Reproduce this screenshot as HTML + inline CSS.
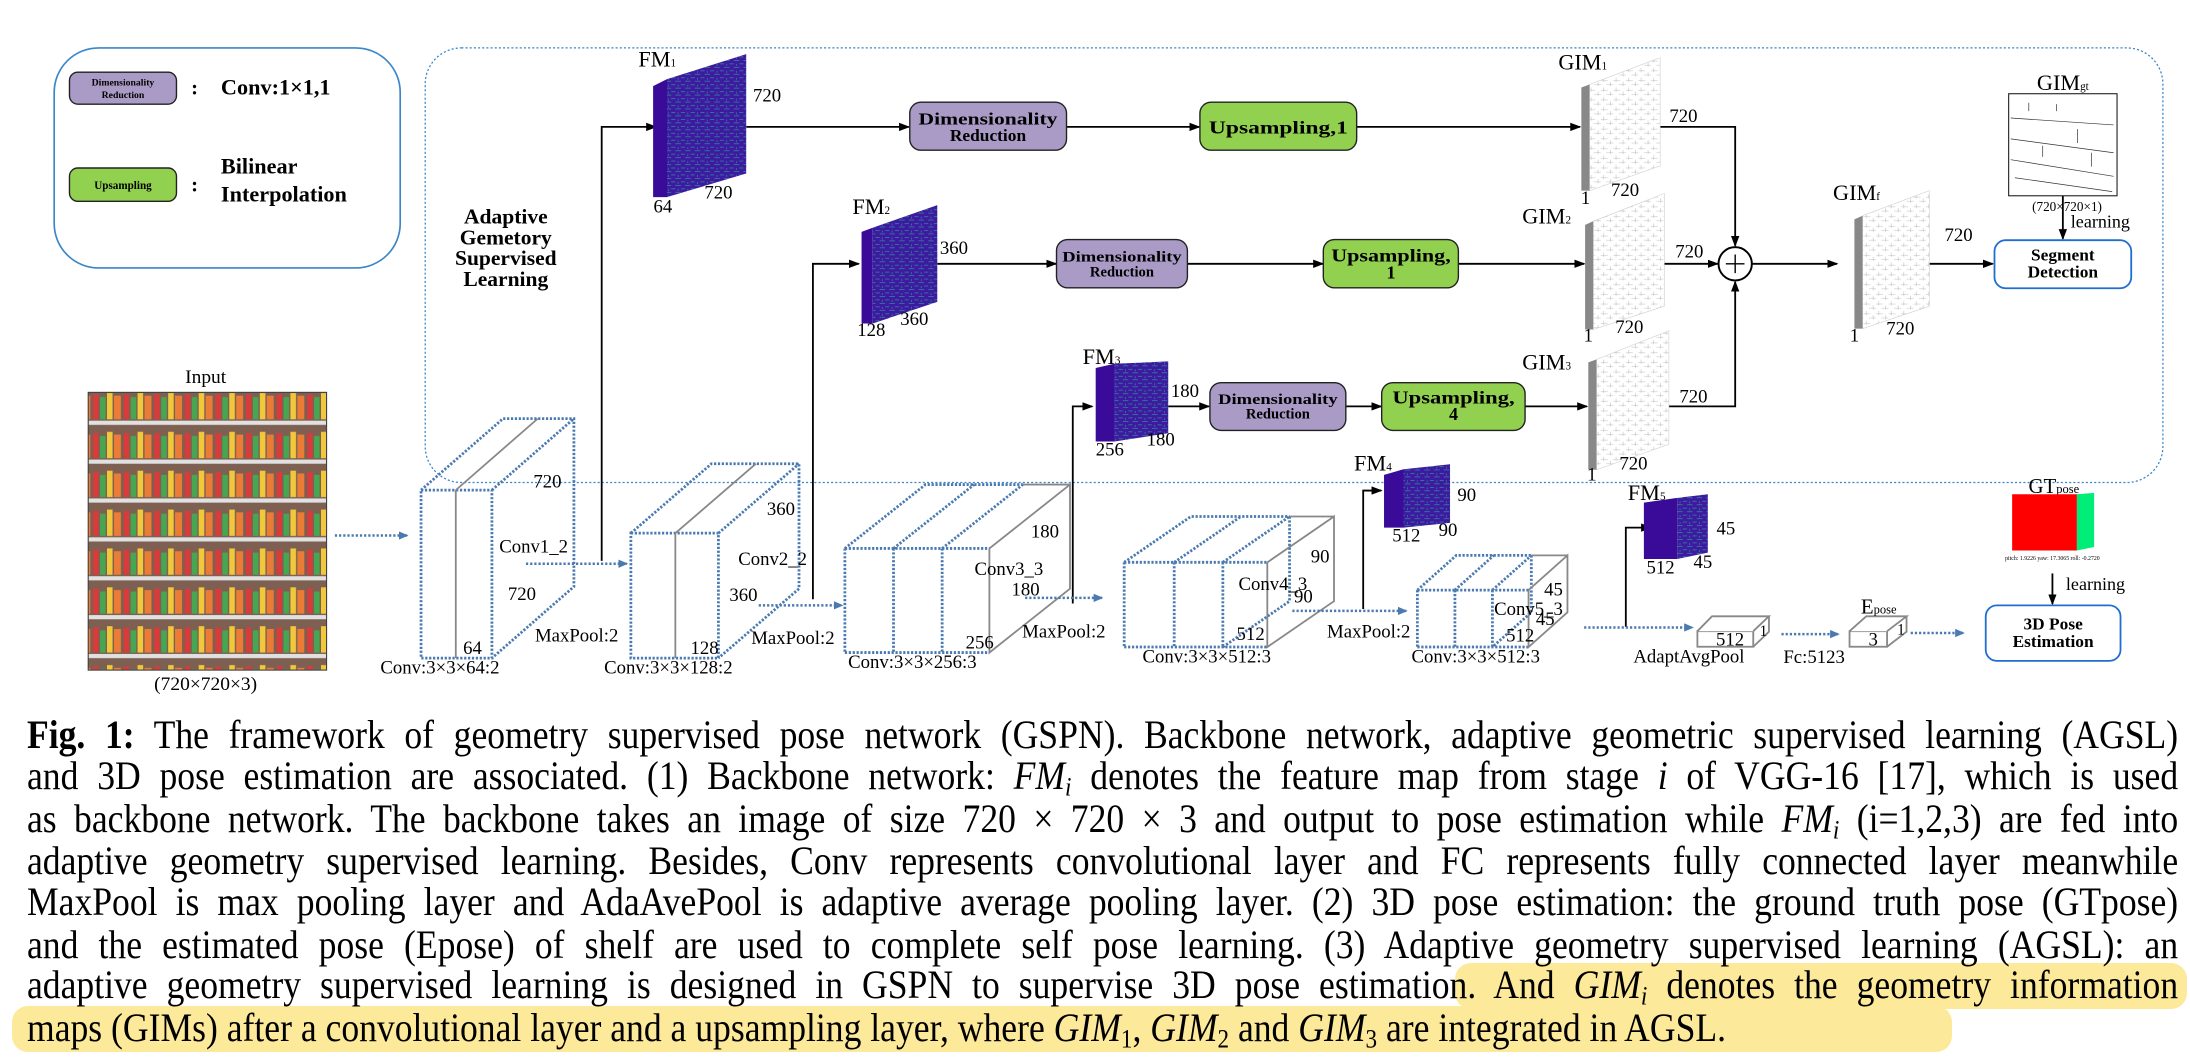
<!DOCTYPE html>
<html><head><meta charset="utf-8">
<style>
html,body{margin:0;padding:0;background:#fff;}
body{width:2190px;height:1058px;position:relative;overflow:hidden;font-family:"Liberation Serif",serif;}
svg{position:absolute;left:0;top:0;}
.cap{position:absolute;left:27px;width:2417px;font-size:40px;line-height:42px;height:42px;text-align:justify;text-align-last:justify;white-space:nowrap;color:#000;transform:scaleX(0.89);transform-origin:0 0;}
.hl{position:absolute;background:#fde99a;border-radius:16px;}
i{font-style:italic;}
sub{font-size:0.65em;vertical-align:-0.25em;line-height:0;}
</style></head><body>
<div class="hl" style="left:1455px;top:963px;width:732px;height:46px;"></div>
<div class="hl" style="left:12px;top:1006px;width:1940px;height:46px;"></div>
<svg width="2190" height="1058" viewBox="0 0 1576 762" preserveAspectRatio="none" font-family="Liberation Serif, serif">
<defs>
<marker id="ak" markerWidth="8" markerHeight="6" refX="7" refY="3" orient="auto" markerUnits="userSpaceOnUse"><path d="M0,0L8,3L0,6z" fill="#000"/></marker>
<marker id="ab" markerWidth="7" markerHeight="6" refX="6" refY="3" orient="auto" markerUnits="userSpaceOnUse"><path d="M0,0L7,3L0,6z" fill="#4a7ab0"/></marker>
<pattern id="fm" width="7" height="5" patternUnits="userSpaceOnUse"><rect width="7" height="5" fill="#3d1aa0"/><path d="M0,1h3M3,3.5h4M5,1v1.5" stroke="#2f8c9c" stroke-width="0.5"/></pattern>
<pattern id="gim" width="9" height="7" patternUnits="userSpaceOnUse"><rect width="9" height="7" fill="#fff"/><path d="M0,2h5M4,5h5M2,0v3M7,3v3" stroke="#bbb" stroke-width="0.4"/></pattern>
<pattern id="shelf" width="22" height="28" patternUnits="userSpaceOnUse"><rect width="22" height="28" fill="#6b4a3a"/><rect x="1" y="4" width="4" height="18" fill="#d42020"/><rect x="6" y="6" width="4" height="16" fill="#2e9a3a"/><rect x="11" y="3" width="4" height="19" fill="#f0c020"/><rect x="16" y="5" width="5" height="17" fill="#e86a1a"/><rect x="0" y="23" width="22" height="3" fill="#ddd"/></pattern>
</defs>

<!-- legend -->
<rect x="39" y="34.5" width="249" height="158.5" rx="32" fill="none" stroke="#3a86c8" stroke-width="1.2"/>
<rect x="50" y="52" width="77" height="23" rx="6" fill="#a99bc6" stroke="#222" stroke-width="1"/>
<text x="88.5" y="61.5" font-size="7" font-weight="bold" text-anchor="middle">Dimensionality</text>
<text x="88.5" y="70.5" font-size="7" font-weight="bold" text-anchor="middle">Reduction</text>
<rect x="50" y="121" width="77" height="24" rx="6" fill="#92d050" stroke="#222" stroke-width="1"/>
<text x="88.5" y="136" font-size="8" font-weight="bold" text-anchor="middle">Upsampling</text>
<text x="140" y="68" font-size="15" font-weight="bold" text-anchor="middle">:</text>
<text x="159" y="68" font-size="16" font-weight="bold">Conv:1×1,1</text>
<text x="140" y="138" font-size="15" font-weight="bold" text-anchor="middle">:</text>
<text x="159" y="125" font-size="16" font-weight="bold">Bilinear</text>
<text x="159" y="145" font-size="16" font-weight="bold">Interpolation</text>

<!-- AGSL region -->
<rect x="306" y="34.5" width="1250.5" height="313" rx="26" fill="none" stroke="#3a86c8" stroke-width="0.9" stroke-dasharray="1.5 1.5"/>
<g font-size="15.5" font-weight="bold" text-anchor="middle">
<text x="364" y="161">Adaptive</text><text x="364" y="176">Gemetory</text><text x="364" y="191">Supervised</text><text x="364" y="206">Learning</text></g>

<!-- input -->
<text x="148" y="276" font-size="14" text-anchor="middle">Input</text>
<rect x="63.5" y="282.6" width="171.5" height="200" fill="url(#shelf)" stroke="#333" stroke-width="0.8"/>
<rect x="63.5" y="282.6" width="171.5" height="200" fill="#fff" opacity="0.12"/>
<text x="148" y="497" font-size="14" text-anchor="middle">(720×720×3)</text>

<!-- black connectors -->
<g stroke="#000" stroke-width="1.3" fill="none" marker-end="url(#ak)">
<path d="M433,404V91.4H472"/>
<path d="M585,431.6V190H618"/>
<path d="M772,434.7V292.7H786"/>
<path d="M981,438.6V353.3H994"/>
<path d="M1170,451.4V380H1188"/>
<path d="M537,91.4H654"/>
<path d="M767.5,91.4H863"/>
<path d="M976.3,91.4H1137"/>
<path d="M674.5,190H760"/>
<path d="M854.5,190H952"/>
<path d="M1049.5,190H1140"/>
<path d="M1197.7,190H1236"/>
<path d="M840.7,292.7H870"/>
<path d="M968.5,292.7H994"/>
<path d="M1097.5,292.7H1142"/>
<path d="M1194.7,91.4H1248.7V177"/>
<path d="M1201,292.7H1248.7V203"/>
<path d="M1261,190H1322"/>
<path d="M1378,190H1434"/>
<path d="M1484.5,141V172"/>
<path d="M1477,413V435"/>
</g>
<circle cx="1248.7" cy="190" r="12" fill="#fff" stroke="#000" stroke-width="1.4"/>
<path d="M1242,190h13.4M1248.7,183.3v13.4" stroke="#000" stroke-width="1"/>

<!-- feature maps -->
<polygon points="470,62 480,57 480,142 470,142" fill="#3a0a98"/>
<polygon points="480,57 537,39 537,125 480,142" fill="url(#fm)"/>
<text x="473" y="48" font-size="16" text-anchor="middle">FM<tspan font-size="8">1</tspan></text>
<text x="552" y="73" font-size="13.5" text-anchor="middle">720</text>
<text x="517" y="143" font-size="13.5" text-anchor="middle">720</text>
<text x="477" y="153" font-size="13.5" text-anchor="middle">64</text>

<polygon points="620,167 628,164 628,233 620,233" fill="#3a0a98"/>
<polygon points="628,164 674.5,147.7 674.5,217.4 628,233" fill="url(#fm)"/>
<text x="627" y="154" font-size="16" text-anchor="middle">FM<tspan font-size="8">2</tspan></text>
<text x="686.5" y="183" font-size="13.5" text-anchor="middle">360</text>
<text x="658" y="234" font-size="13.5" text-anchor="middle">360</text>
<text x="627" y="242" font-size="13.5" text-anchor="middle">128</text>

<polygon points="788.5,265 802,262 802,318 788.5,318" fill="#3a0a98"/>
<polygon points="802,262 840.7,260.3 840.7,312 802,318" fill="url(#fm)"/>
<text x="792.7" y="262" font-size="16" text-anchor="middle">FM<tspan font-size="8">3</tspan></text>
<text x="852.7" y="286" font-size="13.5" text-anchor="middle">180</text>
<text x="835.3" y="321" font-size="13.5" text-anchor="middle">180</text>
<text x="798.7" y="328" font-size="13.5" text-anchor="middle">256</text>

<polygon points="996,342 1010,338 1010,380 996,380" fill="#3a0a98"/>
<polygon points="1010,338 1043.5,334.4 1043.5,376.6 1010,380" fill="url(#fm)"/>
<text x="988" y="339" font-size="16" text-anchor="middle">FM<tspan font-size="8">4</tspan></text>
<text x="1055.5" y="361" font-size="13.5" text-anchor="middle">90</text>
<text x="1042" y="386" font-size="13.5" text-anchor="middle">90</text>
<text x="1012" y="390" font-size="13.5" text-anchor="middle">512</text>

<polygon points="1183,362 1207,358.6 1207,402.6 1183,402.6" fill="#3a0a98"/>
<polygon points="1207,358.6 1229,356 1229,398 1207,402.6" fill="url(#fm)"/>
<text x="1185" y="360" font-size="16" text-anchor="middle">FM<tspan font-size="8">5</tspan></text>
<text x="1242" y="385" font-size="13.5" text-anchor="middle">45</text>
<text x="1225.5" y="409" font-size="13.5" text-anchor="middle">45</text>
<text x="1195" y="413" font-size="13.5" text-anchor="middle">512</text>

<!-- boxes -->
<g stroke="#222" stroke-width="1">
<rect x="654.7" y="73.6" width="112.8" height="34.6" rx="8" fill="#a99bc6"/>
<rect x="863.5" y="73.6" width="112.8" height="34.6" rx="8" fill="#92d050"/>
<rect x="760.3" y="172.5" width="94.2" height="34.8" rx="8" fill="#a99bc6"/>
<rect x="952.3" y="172.5" width="97.2" height="34.8" rx="8" fill="#92d050"/>
<rect x="870.7" y="275.6" width="97.8" height="34.4" rx="8" fill="#a99bc6"/>
<rect x="994.3" y="275.6" width="103.2" height="34.4" rx="8" fill="#92d050"/>
</g>
<g font-weight="bold" text-anchor="middle" font-size="12.5">
<text x="711" y="89.5" textLength="100" lengthAdjust="spacingAndGlyphs">Dimensionality</text>
<text x="711" y="101.5">Reduction</text>
<text x="920" y="96" font-size="13" textLength="100" lengthAdjust="spacingAndGlyphs">Upsampling,1</text>
<text x="807.4" y="188.5" font-size="10.5" textLength="86" lengthAdjust="spacingAndGlyphs">Dimensionality</text>
<text x="807.4" y="199" font-size="10.5">Reduction</text>
<text x="1001" y="188.5" font-size="13" textLength="86" lengthAdjust="spacingAndGlyphs">Upsampling,</text>
<text x="1001" y="200.5" font-size="13">1</text>
<text x="919.6" y="291" font-size="10.5" textLength="86" lengthAdjust="spacingAndGlyphs">Dimensionality</text>
<text x="919.6" y="301.5" font-size="10.5">Reduction</text>
<text x="1046" y="290.5" font-size="13" textLength="88" lengthAdjust="spacingAndGlyphs">Upsampling,</text>
<text x="1046" y="302.5" font-size="13">4</text>
</g>

<!-- GIMs -->
<g>
<polygon points="1138,63 1144,60.8 1144,137.3 1138,137.3" fill="#888"/>
<polygon points="1144,60.8 1194.7,41.5 1194.7,119.5 1144,137.3" fill="url(#gim)" stroke="#ccc" stroke-width="0.4"/>
<polygon points="1140.7,162 1146.7,159.3 1146.7,237.3 1140.7,237.3" fill="#888"/>
<polygon points="1146.7,159.3 1197.7,139.4 1197.7,220.5 1146.7,237.3" fill="url(#gim)" stroke="#ccc" stroke-width="0.4"/>
<polygon points="1143,261 1149,258.8 1149,338.3 1143,338.3" fill="#888"/>
<polygon points="1149,258.8 1201,238.2 1201,320 1149,338.3" fill="url(#gim)" stroke="#ccc" stroke-width="0.4"/>
<polygon points="1334.5,158 1340.5,155.3 1340.5,236.7 1334.5,236.7" fill="#888"/>
<polygon points="1340.5,155.3 1388.5,137.3 1388.5,220.5 1340.5,236.7" fill="url(#gim)" stroke="#ccc" stroke-width="0.4"/>
</g>
<g font-size="13.5" text-anchor="middle">
<text x="1139" y="50" font-size="16">GIM<tspan font-size="8">1</tspan></text>
<text x="1211.5" y="88">720</text><text x="1141" y="147">1</text><text x="1169.5" y="141">720</text>
<text x="1113" y="161" font-size="16">GIM<tspan font-size="8">2</tspan></text>
<text x="1215.7" y="185.5">720</text><text x="1143" y="246">1</text><text x="1172.5" y="240">720</text>
<text x="1113" y="266" font-size="16">GIM<tspan font-size="8">3</tspan></text>
<text x="1218.7" y="290">720</text><text x="1145.5" y="346">1</text><text x="1175.5" y="338">720</text>
<text x="1336" y="144" font-size="16">GIM<tspan font-size="8">f</tspan></text>
<text x="1409.5" y="173.5">720</text><text x="1334.5" y="246">1</text><text x="1367.5" y="241">720</text>
<text x="1484.5" y="65" font-size="16">GIM<tspan font-size="8">gt</tspan></text>
<text x="1487.5" y="152" font-size="9.5">(720×720×1)</text>
<text x="1511.5" y="164" font-size="13">learning</text>
</g>
<rect x="1445.5" y="67.5" width="78" height="73.5" fill="#fff" stroke="#222" stroke-width="0.8"/>
<path d="M1447,85l74,5M1447,100l74,10M1447,115l74,12M1450,128l70,10M1460,74v6M1480,75v5M1495,93v10M1470,105v8M1505,110v10" stroke="#333" stroke-width="0.5" fill="none"/>
<rect x="1435.3" y="173" width="98.4" height="34.6" rx="8" fill="#fff" stroke="#1f6fd0" stroke-width="1.3"/>
<text x="1484.5" y="187.5" font-size="12.5" font-weight="bold" text-anchor="middle">Segment</text>
<text x="1484.5" y="200" font-size="12.5" font-weight="bold" text-anchor="middle">Detection</text>

<!-- cubes -->
<g fill="none" stroke="#4a7ab0" stroke-width="2" stroke-dasharray="1.6 1.2">
<rect x="303" y="353" width="51" height="121"/>
<path d="M303,353L362,301.5H413V422.5L354,474M354,353L413,301.5"/>
<rect x="454" y="384" width="63" height="90"/>
<path d="M454,384L512,334H575V424L517,474M517,384L575,334"/>
<path d="M608,395H712M608,470H712M608,395V470M643,395V470M678,395V470M608,395L666,349H736M643,395L701,349M678,395L736,349"/>
<path d="M809,405H912M809,466H912M809,405V466M845,405V466M880,405V466M809,405L857,372H928M845,405L893,372M880,405L928,372M928,372V433L880,466"/>
<path d="M1020,425H1100M1020,466H1100M1020,425V466M1047,425V466M1074,425V466M1020,425L1048,400H1102M1047,425L1075,400M1074,425L1102,400M1102,400V441L1074,466"/>
</g>
<g fill="none" stroke="#888" stroke-width="1.3">
<path d="M328,353V474M328,353L387,301.5"/>
<path d="M486,384V474M486,384L544,334"/>
<path d="M712,395V470L770,424V349L712,395M736,349H770"/>
<path d="M912,405V466L960,433V372L912,405M928,372H960"/>
<path d="M1100,425V466L1128,441V400L1100,425M1102,400H1128"/>
</g>
<!-- blue dotted arrows -->
<g fill="none" stroke="#4a7ab0" stroke-width="1.8" stroke-dasharray="1.6 1.4" marker-end="url(#ab)">
<path d="M241,385.7H293"/>
<path d="M378.5,406H451"/>
<path d="M546,436H606"/>
<path d="M737.7,430.6H793"/>
<path d="M930,440H1012"/>
<path d="M1140,451.9H1218"/>
<path d="M1282,456.7H1323"/>
<path d="M1375,455.9H1413"/>
</g>
<g font-size="13.5" text-anchor="middle">
<text x="394" y="351">720</text><text x="384" y="398">Conv1_2</text><text x="375.6" y="432">720</text><text x="340" y="471">64</text><text x="415" y="462">MaxPool:2</text><text x="316.6" y="485">Conv:3×3×64:2</text>
<text x="562" y="371">360</text><text x="556" y="407">Conv2_2</text><text x="535" y="433">360</text><text x="507" y="471">128</text><text x="570.6" y="464">MaxPool:2</text><text x="481" y="485">Conv:3×3×128:2</text>
<text x="752" y="387">180</text><text x="726" y="414">Conv3_3</text><text x="738" y="429">180</text><text x="705" y="467">256</text><text x="765.6" y="459">MaxPool:2</text><text x="656.6" y="481">Conv:3×3×256:3</text>
<text x="950" y="405">90</text><text x="916" y="425">Conv4_3</text><text x="938" y="434">90</text><text x="900" y="461">512</text><text x="985" y="459">MaxPool:2</text><text x="868.4" y="477">Conv:3×3×512:3</text>
<text x="1118" y="429">45</text><text x="1100" y="443">Conv5_3</text><text x="1112" y="450">45</text><text x="1094" y="462">512</text><text x="1062" y="477">Conv:3×3×512:3</text>
</g>
<!-- small boxes -->
<g fill="#fff" stroke="#888" stroke-width="1.3">
<rect x="1221.5" y="454.6" width="40.2" height="11.2"/>
<path d="M1221.5,454.6L1232,443.9H1273L1261.7,454.6M1273,443.9V455L1261.7,465.8"/>
<rect x="1331" y="454.6" width="27" height="11.2"/>
<path d="M1331,454.6L1343,443.9H1372L1358,454.6M1372,443.9V455L1358,465.8"/>
</g>
<g font-size="13.5" text-anchor="middle">
<text x="1245" y="465">512</text><text x="1269" y="458" font-size="11">1</text>
<text x="1215.4" y="477">AdaptAvgPool</text>
<text x="1305.5" y="477.5">Fc:5123</text>
<text x="1348" y="465">3</text><text x="1368" y="457" font-size="11">1</text>
<text x="1352" y="442" font-size="15">E<tspan font-size="9">pose</tspan></text>
<text x="1478" y="355" font-size="15">GT<tspan font-size="9">pose</tspan></text>
<text x="1508" y="425" font-size="13">learning</text>
</g>
<polygon points="1448,356 1494.6,356 1494.6,396.5 1448,396.5" fill="#ff0000"/>
<polygon points="1494.6,356 1507,355 1507,394 1494.6,396.5" fill="#00ee77"/>
<text x="1477" y="403.5" font-size="4.2" text-anchor="middle">pitch: 1.9226 yaw: 17.3065 roll: -0.2720</text>
<rect x="1429" y="436" width="97" height="40" rx="8" fill="#fff" stroke="#1f6fd0" stroke-width="1.3"/>
<text x="1477.5" y="453.5" font-size="12.5" font-weight="bold" text-anchor="middle">3D Pose</text>
<text x="1477.5" y="466" font-size="12.5" font-weight="bold" text-anchor="middle">Estimation</text>
</svg>

<div class="cap" style="top:714px;"><b>Fig. 1:</b> The framework of geometry supervised pose network (GSPN). Backbone network, adaptive geometric supervised learning (AGSL)</div>
<div class="cap" style="top:755px;">and 3D pose estimation are associated. (1) Backbone network: <i>FM<sub>i</sub></i> denotes the feature map from stage <i>i</i> of VGG-16 [17], which is used</div>
<div class="cap" style="top:798px;">as backbone network. The backbone takes an image of size 720 × 720 × 3 and output to pose estimation while <i>FM<sub>i</sub></i> (i=1,2,3) are fed into</div>
<div class="cap" style="top:840px;">adaptive geometry supervised learning. Besides, Conv represents convolutional layer and FC represents fully connected layer meanwhile</div>
<div class="cap" style="top:881px;">MaxPool is max pooling layer and AdaAvePool is adaptive average pooling layer. (2) 3D pose estimation: the ground truth pose (GTpose)</div>
<div class="cap" style="top:924px;">and the estimated pose (Epose) of shelf are used to complete self pose learning. (3) Adaptive geometry supervised learning (AGSL): an</div>
<div class="cap" style="top:964px;">adaptive geometry supervised learning is designed in GSPN to supervise 3D pose estimation. And <i>GIM<sub>i</sub></i> denotes the geometry information</div>
<div class="cap" style="top:1007px;text-align:left;text-align-last:left;">maps (GIMs) after a convolutional layer and a upsampling layer, where <i>GIM</i><sub>1</sub>, <i>GIM</i><sub>2</sub> and <i>GIM</i><sub>3</sub> are integrated in AGSL.</div>
</body></html>
